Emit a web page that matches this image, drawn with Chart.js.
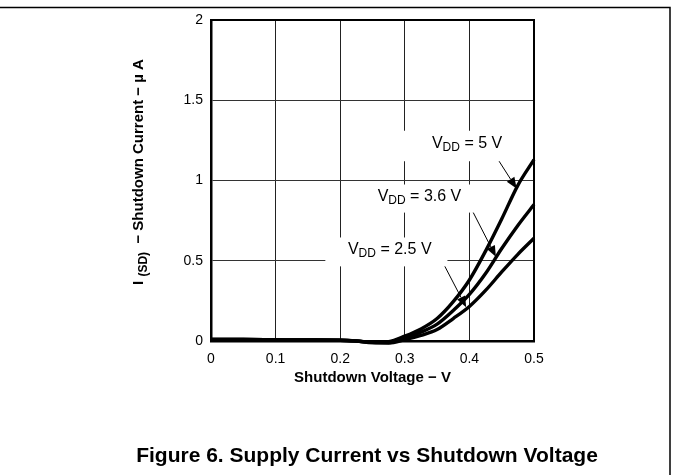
<!DOCTYPE html>
<html>
<head>
<meta charset="utf-8">
<script src="https://cdn.jsdelivr.net/npm/chart.js@4/dist/chart.umd.min.js"></script>
<style>
  html, body { margin: 0; padding: 0; background: #fff; }
  canvas { display: block; }
</style>
</head>
<body>
<canvas id="shutdownChart" width="673" height="475"></canvas>
<script>
// shutdown current vs shutdown voltage

const voltage = [0, 0.05, 0.1, 0.15, 0.2, 0.225, 0.25, 0.275, 0.3, 0.325, 0.35, 0.375, 0.4, 0.425, 0.45, 0.475, 0.5];
const vdd5  = [0.01, 0.01, 0.008, 0.006, 0.005, 0.0, -0.008, -0.004, 0.03, 0.075, 0.14, 0.245, 0.38, 0.56, 0.76, 0.97, 1.13];
const vdd36 = [0.01, 0.01, 0.008, 0.006, 0.005, 0.0, -0.01, -0.01, 0.02, 0.055, 0.105, 0.19, 0.29, 0.42, 0.576, 0.72, 0.85];
const vdd25 = [0.01, 0.01, 0.008, 0.006, 0.005, 0.0, -0.01, -0.012, 0.008, 0.035, 0.072, 0.14, 0.215, 0.315, 0.43, 0.54, 0.64];

const xTicks = [0, 0.1, 0.2, 0.3, 0.4, 0.5];
const yTicks = [0, 0.5, 1, 1.5, 2];

const seriesLabels = ["5 V", "3.6 V", "2.5 V"];

const FONT = "'Liberation Sans', Arial, Helvetica, sans-serif";

// label boxes + arrows, in data units
const notes = [
    { text: "5 V",   tx: 0.342, ty: 1.24, box: [0.294, 1.31, 0.480, 1.12], from: [0.446, 1.12], to: [0.473, 0.95] },
    { text: "3.6 V", tx: 0.258, ty: 0.91, box: [0.224, 0.975, 0.406, 0.80], from: [0.406, 0.80], to: [0.441, 0.525] },
    { text: "2.5 V", tx: 0.212, ty: 0.58, box: [0.177, 0.645, 0.366, 0.465], from: [0.362, 0.465], to: [0.395, 0.21] }
];

function toPoints(ys) {
    return voltage.map((v, i) => ({ x: v, y: ys[i] }));
}

function lineSet(label, ys) {
    return {
        label: label,
        data: toPoints(ys),
        borderColor: "#000",
        borderWidth: 3.4,
        pointRadius: 0,
        showLine: true,
        fill: false,
        cubicInterpolationMode: "monotone",
        clip: 6
    };
}

function drawVdd(ctx, x, yBase, rest, size) {
    ctx.textBaseline = "alphabetic";
    ctx.textAlign = "left";
    ctx.font = size + "px " + FONT;
    ctx.fillText("V", x, yBase);
    x += ctx.measureText("V").width;
    ctx.font = Math.round(size * 0.78) + "px " + FONT;
    ctx.fillText("DD", x, yBase + 3);
    x += ctx.measureText("DD").width;
    ctx.font = size + "px " + FONT;
    ctx.fillText(" = " + rest, x, yBase);
}

function arrow(ctx, x1, y1, x2, y2) {
    const a = Math.atan2(y2 - y1, x2 - x1);
    const len = 11, half = 4.5;
    ctx.strokeStyle = "#000";
    ctx.lineWidth = 1;
    ctx.beginPath();
    ctx.moveTo(x1, y1);
    ctx.lineTo(x2 - Math.cos(a) * len, y2 - Math.sin(a) * len);
    ctx.stroke();
    ctx.fillStyle = "#000";
    ctx.beginPath();
    ctx.moveTo(x2, y2);
    ctx.lineTo(x2 - Math.cos(a) * len - Math.sin(a) * half, y2 - Math.sin(a) * len + Math.cos(a) * half);
    ctx.lineTo(x2 - Math.cos(a) * len + Math.sin(a) * half, y2 - Math.sin(a) * len - Math.cos(a) * half);
    ctx.closePath();
    ctx.fill();
}

const decor = {
    id: "decor",
    beforeDatasetsDraw(chart) {
        const ctx = chart.ctx;
        const xs = chart.scales.x, ys = chart.scales.y;
        ctx.save();
        notes.forEach(n => {
            const l = xs.getPixelForValue(n.box[0]), t = ys.getPixelForValue(n.box[1]);
            const r = xs.getPixelForValue(n.box[2]), b = ys.getPixelForValue(n.box[3]);
            ctx.fillStyle = "#fff";
            ctx.fillRect(l, t, r - l, b - t);
            ctx.fillStyle = "#000";
            drawVdd(ctx, xs.getPixelForValue(n.tx), ys.getPixelForValue(n.ty) + 6, n.text, 16);
        });
        ctx.restore();
    },
    afterDatasetsDraw(chart) {
        const ctx = chart.ctx;
        const xs = chart.scales.x, ys = chart.scales.y;
        const a = chart.chartArea;
        ctx.save();
        notes.forEach(n => {
            arrow(ctx, xs.getPixelForValue(n.from[0]), ys.getPixelForValue(n.from[1]),
                       xs.getPixelForValue(n.to[0]), ys.getPixelForValue(n.to[1]));
        });
        // top and right frame
        ctx.strokeStyle = "#000";
        ctx.lineWidth = 2;
        ctx.beginPath();
        ctx.moveTo(a.left - 1, a.top);
        ctx.lineTo(a.right, a.top);
        ctx.lineTo(a.right, a.bottom);
        ctx.stroke();
        ctx.restore();
    },
    afterDraw(chart) {
        const ctx = chart.ctx;
        const a = chart.chartArea;
        ctx.save();
        ctx.fillStyle = "#000";

        // outer page frame (top + right)
        ctx.strokeStyle = "#000";
        ctx.lineWidth = 1.5;
        ctx.beginPath();
        ctx.moveTo(0, 7.5);
        ctx.lineTo(670, 7.5);
        ctx.lineTo(670, 475);
        ctx.stroke();

        // x title
        ctx.font = "bold 15px " + FONT;
        ctx.textAlign = "center";
        ctx.textBaseline = "middle";
        ctx.fillText("Shutdown Voltage \u2212 V", (a.left + a.right) / 2, 378);

        // y title with subscript
        ctx.translate(138, 172);
        ctx.rotate(-Math.PI / 2);
        const big = "bold 15px " + FONT, small = "bold 12px " + FONT;
        ctx.font = big;
        const w1 = ctx.measureText("I ").width;
        const w3 = ctx.measureText("  \u2212 Shutdown Current \u2212 \u00b5 A").width;
        ctx.font = small;
        const w2 = ctx.measureText("(SD)").width;
        let x = -(w1 + w2 + w3) / 2;
        ctx.textAlign = "left";
        ctx.textBaseline = "alphabetic";
        ctx.font = big;
        ctx.fillText("I ", x, 5);
        x += w1;
        ctx.font = small;
        ctx.fillText("(SD)", x, 9);
        x += w2;
        ctx.font = big;
        ctx.fillText("  \u2212 Shutdown Current \u2212 \u00b5 A", x, 5);
        ctx.setTransform(1, 0, 0, 1, 0, 0);

        // caption
        ctx.font = "bold 21px " + FONT;
        ctx.textAlign = "center";
        ctx.textBaseline = "middle";
        ctx.fillText("Figure 6. Supply Current vs Shutdown Voltage", 367, 456);
        ctx.restore();
    }
};

new Chart(document.getElementById("shutdownChart"), {
    type: "scatter",
    data: {
        datasets: [
            lineSet(seriesLabels[0], vdd5),
            lineSet(seriesLabels[1], vdd36),
            lineSet(seriesLabels[2], vdd25)
        ]
    },
    options: {
        responsive: false,
        animation: false,
        layout: {
            padding: { left: 0, top: 20, right: 139, bottom: 0 }
        },
        plugins: {
            legend: { display: false },
            tooltip: { enabled: false }
        },
        scales: {
            x: {
                type: "linear",
                min: 0,
                max: 0.5,
                afterBuildTicks: s => { s.ticks = xTicks.map(v => ({ value: v })); },
                afterFit: s => { s.height = 134; },
                ticks: {
                    color: "#000",
                    font: { family: FONT, size: 14 },
                    padding: 10,
                    maxRotation: 0,
                    callback: v => String(v)
                },
                grid: { color: "#222", lineWidth: 1, drawTicks: false },
                border: { display: true, color: "#000", width: 2.5 }
            },
            y: {
                type: "linear",
                min: 0,
                max: 2,
                afterBuildTicks: s => { s.ticks = yTicks.map(v => ({ value: v })); },
                afterFit: s => { s.width = 211; },
                ticks: {
                    color: "#000",
                    font: { family: FONT, size: 14 },
                    padding: 8,
                    callback: v => String(v)
                },
                grid: { color: "#333", lineWidth: 1, drawTicks: false },
                border: { display: true, color: "#000", width: 2.5 }
            }
        }
    },
    plugins: [decor]
});
</script>
</body>
</html>
